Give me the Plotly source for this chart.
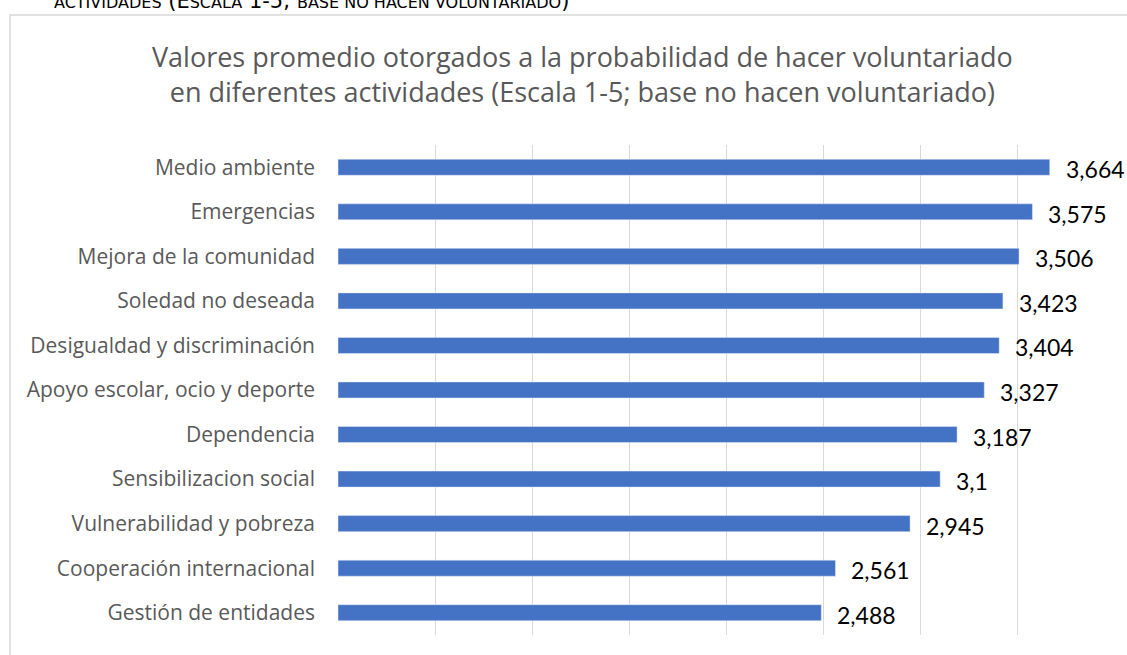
import plotly.graph_objects as go

# chart data
categories = [
    'Medio ambiente',
    'Emergencias',
    'Mejora de la comunidad',
    'Soledad no deseada',
    'Desigualdad y discriminación',
    'Apoyo escolar, ocio y deporte',
    'Dependencia',
    'Sensibilizacion social',
    'Vulnerabilidad y pobreza',
    'Cooperación internacional',
    'Gestión de entidades',
]
values = [3.664, 3.575, 3.506, 3.423, 3.404, 3.327, 3.187, 3.1, 2.945, 2.561, 2.488]
labels = [str(v).replace('.', ',') for v in values]

title_text = ('Valores promedio otorgados a la probabilidad de hacer voluntariado<br>'
              'en diferentes actividades (Escala 1-5; base no hacen voluntariado)')

W, H = 1127, 655
L, R, T, B = 338, 12, 145, 20
pw = W - L - R
ph = H - T - B


def px_x(p):
    return (p - L) / pw


def px_y(p):
    return 1 - (p - T) / ph


fig = go.Figure()
fig.add_trace(go.Bar(
    y=categories, x=values, orientation='h',
    marker=dict(color='#4472C4'),
    width=0.36,
    hoverinfo='skip',
))

# value labels to the right of each bar
for c, v, t in zip(categories, values, labels):
    fig.add_annotation(x=v, y=c, text=t, showarrow=False, xanchor='left',
                       xshift=14, yshift=-2,
                       font=dict(family='Lato', size=23, color='#000000'))

# title
fig.add_annotation(xref='paper', yref='paper', x=px_x(582), y=px_y(74),
                   text=title_text, showarrow=False, xanchor='center', yanchor='middle',
                   font=dict(family='Open Sans', size=27, color='#595959'))

# cropped caption above the chart box (small caps look)
sm = "<span style='font-size:16px'>%s</span>"
cap = (sm % 'ACTIVIDADES') + ' (E' + (sm % 'SCALA') + ' 1-5; ' + (sm % 'BASE NO HACEN VOLUNTARIADO') + ')'
fig.add_annotation(xref='paper', yref='paper', x=px_x(52), y=px_y(15),
                   text=cap, showarrow=False, xanchor='left', yanchor='bottom',
                   font=dict(family='DejaVu Sans', size=21, color='#000000'))

# chart border box
fig.add_shape(type='rect', xref='paper', yref='paper',
              x0=px_x(10), x1=px_x(1150), y0=px_y(700), y1=px_y(15),
              line=dict(color='#D9D9D9', width=1.5), fillcolor='rgba(0,0,0,0)', layer='below')

fig.update_layout(
    width=W, height=H,
    margin=dict(l=L, r=R, t=T, b=B),
    paper_bgcolor='white', plot_bgcolor='white',
    showlegend=False,
)
fig.update_xaxes(range=[0, 4], dtick=0.5, showgrid=True, gridcolor='#D9D9D9', gridwidth=1,
                 showticklabels=False, zeroline=False, showline=False, ticks='')
fig.update_yaxes(autorange='reversed', showgrid=False, zeroline=False, showline=False,
                 ticks='', ticklabelstandoff=22,
                 tickfont=dict(family='Open Sans', size=21, color='#595959'))

fig.write_html('out.html', config={'displayModeBar': False},
               post_script="document.body.style.margin='0';")
